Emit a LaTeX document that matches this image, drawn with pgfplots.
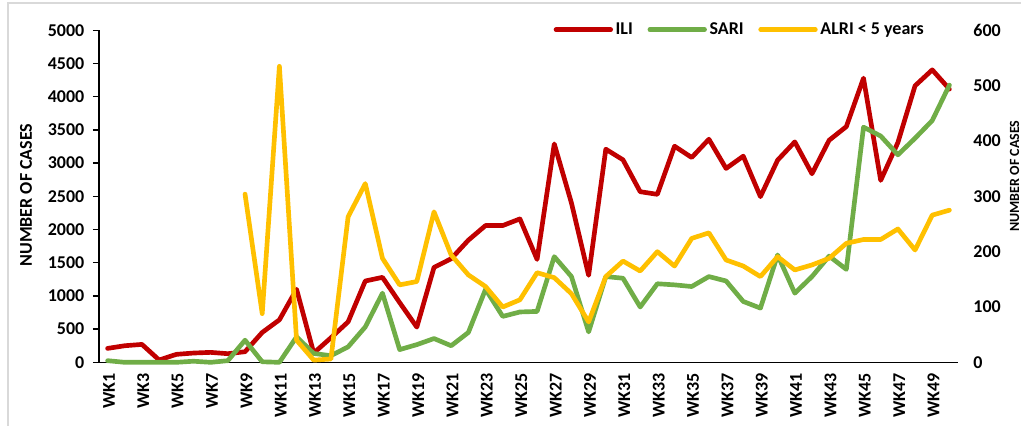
\documentclass[border=0pt]{standalone}
\usepackage{pgfplots}
\pgfplotsset{compat=1.18}
\usepackage{fontspec}
\setmainfont{Carlito}
\definecolor{ili}{HTML}{C00000}
\definecolor{sari}{HTML}{70AD47}
\definecolor{alri}{HTML}{FFC000}
\definecolor{framegray}{HTML}{D9D9D9}

\pgfplotstableread{
wk ili sari
1 210 3
2 250 0
3 270 0
4 35 0
5 120 0
6 140 2
7 150 0
8 130 3
9 160 40
10 450 1
11 640 0
12 1100 46
13 140 16
14 370 12
15 610 28
16 1225 64
17 1280 125
18 900 23
19 530 32
20 1430 43
21 1560 30
22 1840 54
23 2060 132
24 2060 83
25 2160 91
26 1550 92
27 3290 191
28 2400 155
29 1310 55
30 3210 155
31 3050 152
32 2570 100
33 2530 142
34 3255 140
35 3085 137
36 3360 155
37 2920 147
38 3105 110
39 2495 98
40 3045 194
41 3320 125
42 2840 155
43 3345 192
44 3550 168
45 4280 425
46 2740 409
47 3310 375
48 4165 405
49 4405 437
50 4115 501
}\datatable

\pgfplotstableread{
wk alri
9 304
10 88
11 535
12 40
13 4
14 6
15 263
16 323
17 188
18 140
19 146
20 272
21 194
22 158
23 137
24 100
25 113
26 162
27 153
28 124
29 73
30 155
31 183
32 165
33 200
34 174
35 224
36 234
37 185
38 174
39 155
40 191
41 167
42 176
43 188
44 215
45 222
46 222
47 241
48 203
49 266
50 275
}\alritable

\pgfplotsset{
  common/.style={
    at={(74.25pt,47pt)}, anchor=south west,
    scale only axis, width=644.25pt, height=249pt,
    xmin=0.5, xmax=50.5,
    tick label style={font=\fontsize{13.5}{16}\selectfont\bfseries},
    label style={font=\fontsize{13.5}{16}\selectfont\bfseries},
    /pgf/number format/.cd, 1000 sep={}, assume math mode=true, /pgfplots/.cd,
    axis line style={black, line width=1.1pt},
    tick style={black, line width=1.1pt},
    tick align=outside,
    clip=false,
  },
  serie/.style={line width=3.5pt, line join=round, line cap=round},
}

\begin{document}
\begin{tikzpicture}
\path[use as bounding box] (0,0) rectangle (765.75pt,318.75pt);
\draw[framegray, line width=1.2pt] (6pt,-2pt) -- (6pt,316.5pt) -- (770pt,316.5pt);

\begin{axis}[common,
  ymin=0, ymax=5000,
  axis y line*=left, axis x line*=bottom,
  ytick={0,500,...,5000},
  major tick length=4.5pt,
  yticklabel style={xshift=-3pt},
  xtick={1,3,...,49},
  xticklabels={WK1,WK3,WK5,WK7,WK9,WK11,WK13,WK15,WK17,WK19,WK21,WK23,WK25,WK27,WK29,WK31,WK33,WK35,WK37,WK39,WK41,WK43,WK45,WK47,WK49},
  xtick style={draw=none},
  minor xtick={0.5,1.5,...,50.5},
  minor tick length=4.5pt,
  minor tick style={black, line width=1.1pt},
  xticklabel style={rotate=90, anchor=east, yshift=-1pt},
  ylabel={NUMBER OF CASES},
  ylabel style={at={(axis description cs:-0.085,0.504)}, rotate=0, anchor=center},
]
\addplot[serie, ili] table[x=wk, y=ili] {\datatable};
\end{axis}

\begin{axis}[common,
  ymin=0, ymax=600,
  axis y line*=right, axis x line=none,
  ytick={0,100,...,600},
  y axis line style={draw=none},
  major tick length=0pt,
  yticklabel style={anchor=west, xshift=8pt},
  ylabel={NUMBER OF CASES},
  ylabel style={at={(axis description cs:1.066,0.561)}, rotate=0, anchor=center, font=\fontsize{10.5}{12}\selectfont\bfseries},
  legend style={at={(0.529,1.002)}, anchor=west, draw=none, fill=none, inner sep=0pt,
    font=\fontsize{13.5}{16}\selectfont\bfseries, legend columns=3,
    /tikz/every even column/.append style={column sep=9pt}},
  legend image code/.code={\draw[#1, line width=3.5pt, line cap=round] (0pt,0pt) -- (41pt,0pt);},
]
\addlegendimage{ili}
\addlegendentry{ILI}
\addplot[serie, sari] table[x=wk, y=sari] {\datatable};
\addlegendentry{SARI}
\addplot[serie, alri] table[x=wk, y=alri] {\alritable};
\addlegendentry{ALRI < 5 years}
\end{axis}
\end{tikzpicture}
\end{document}
